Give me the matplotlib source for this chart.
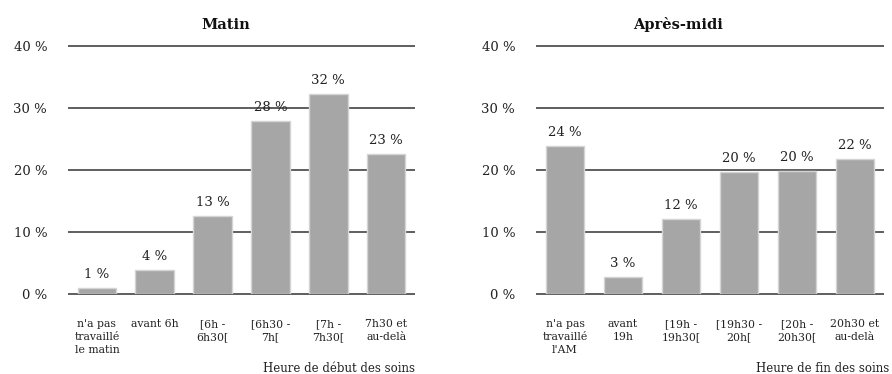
import matplotlib
matplotlib.use("Agg")
import matplotlib.pyplot as plt

plt.rcParams['font.family'] = ['DejaVu Serif']

# Morning: start time of care
matin_categories = ["n'a pas\ntravaillé\nle matin", "avant 6h", "[6h -\n6h30[",
                    "[6h30 -\n7h[", "[7h -\n7h30[", "7h30 et\nau-delà"]
matin_values = [0.97, 3.84, 12.6, 27.97, 32.2, 22.6]

# Afternoon: end time of care
am_categories = ["n'a pas\ntravaillé\nl'AM", "avant\n19h", "[19h -\n19h30[",
                 "[19h30 -\n20h[", "[20h -\n20h30[", "20h30 et\nau-delà"]
am_values = [23.9, 2.7, 12.1, 19.7, 19.9, 21.8]

yticks = [0, 10, 20, 30, 40]

W, H = 892, 374
fig = plt.figure(figsize=(W / 100, H / 100), dpi=100)

bar_color = "#a6a6a6"
edge_color = "#d4d4d4"
grid_color = "#333333"

TOP, BOTTOM = 46, 294


def panel(left_px, right_px, cats, vals, title, title_x, xlabel, xlabel_x):
    ax = fig.add_axes([left_px / W, 1 - BOTTOM / H, (right_px - left_px) / W,
                       (BOTTOM - TOP) / H])
    x = range(len(cats))
    ax.bar(x, vals, width=0.67, color=bar_color, edgecolor=edge_color,
           linewidth=1.0, zorder=3)
    for xi, v in zip(x, vals):
        ax.annotate(f"{round(v):d} %", (xi, v), xytext=(0, 5),
                    textcoords="offset points", ha="center", va="bottom",
                    fontsize=9.5, color="#222222")
    ax.set_xlim(-0.5, len(cats) - 0.5)
    ax.set_ylim(0, 40)
    ax.set_yticks(yticks)
    ax.set_yticklabels([f"{t} %" for t in yticks], fontsize=9.5, color="#222222")
    for t in yticks:
        ax.axhline(t, color=grid_color, linewidth=1.1, zorder=1,
                   solid_capstyle="butt", clip_on=False)
    ax.set_xticks(list(x))
    ax.set_xticklabels(cats, fontsize=7.8, color="#222222", linespacing=1.35,
                       va="top")
    ax.tick_params(axis="both", length=0)
    ax.tick_params(axis="y", pad=15)
    ax.tick_params(axis="x", pad=18)
    for s in ax.spines.values():
        s.set_visible(False)
    fig.text(title_x / W, 1 - 25 / H, title, ha="center", va="center",
             fontsize=10.5, fontweight="bold", color="#111111")
    fig.text(xlabel_x / W, 1 - 368 / H, xlabel, ha="right", va="center",
             fontsize=8.5, color="#222222")
    return ax


panel(68, 415, matin_categories, matin_values, "Matin", 226,
      "Heure de début des soins", 415)
panel(536, 884, am_categories, am_values, "Après-midi", 678,
      "Heure de fin des soins", 889)

fig.savefig("out.png", dpi=100, facecolor="white")
